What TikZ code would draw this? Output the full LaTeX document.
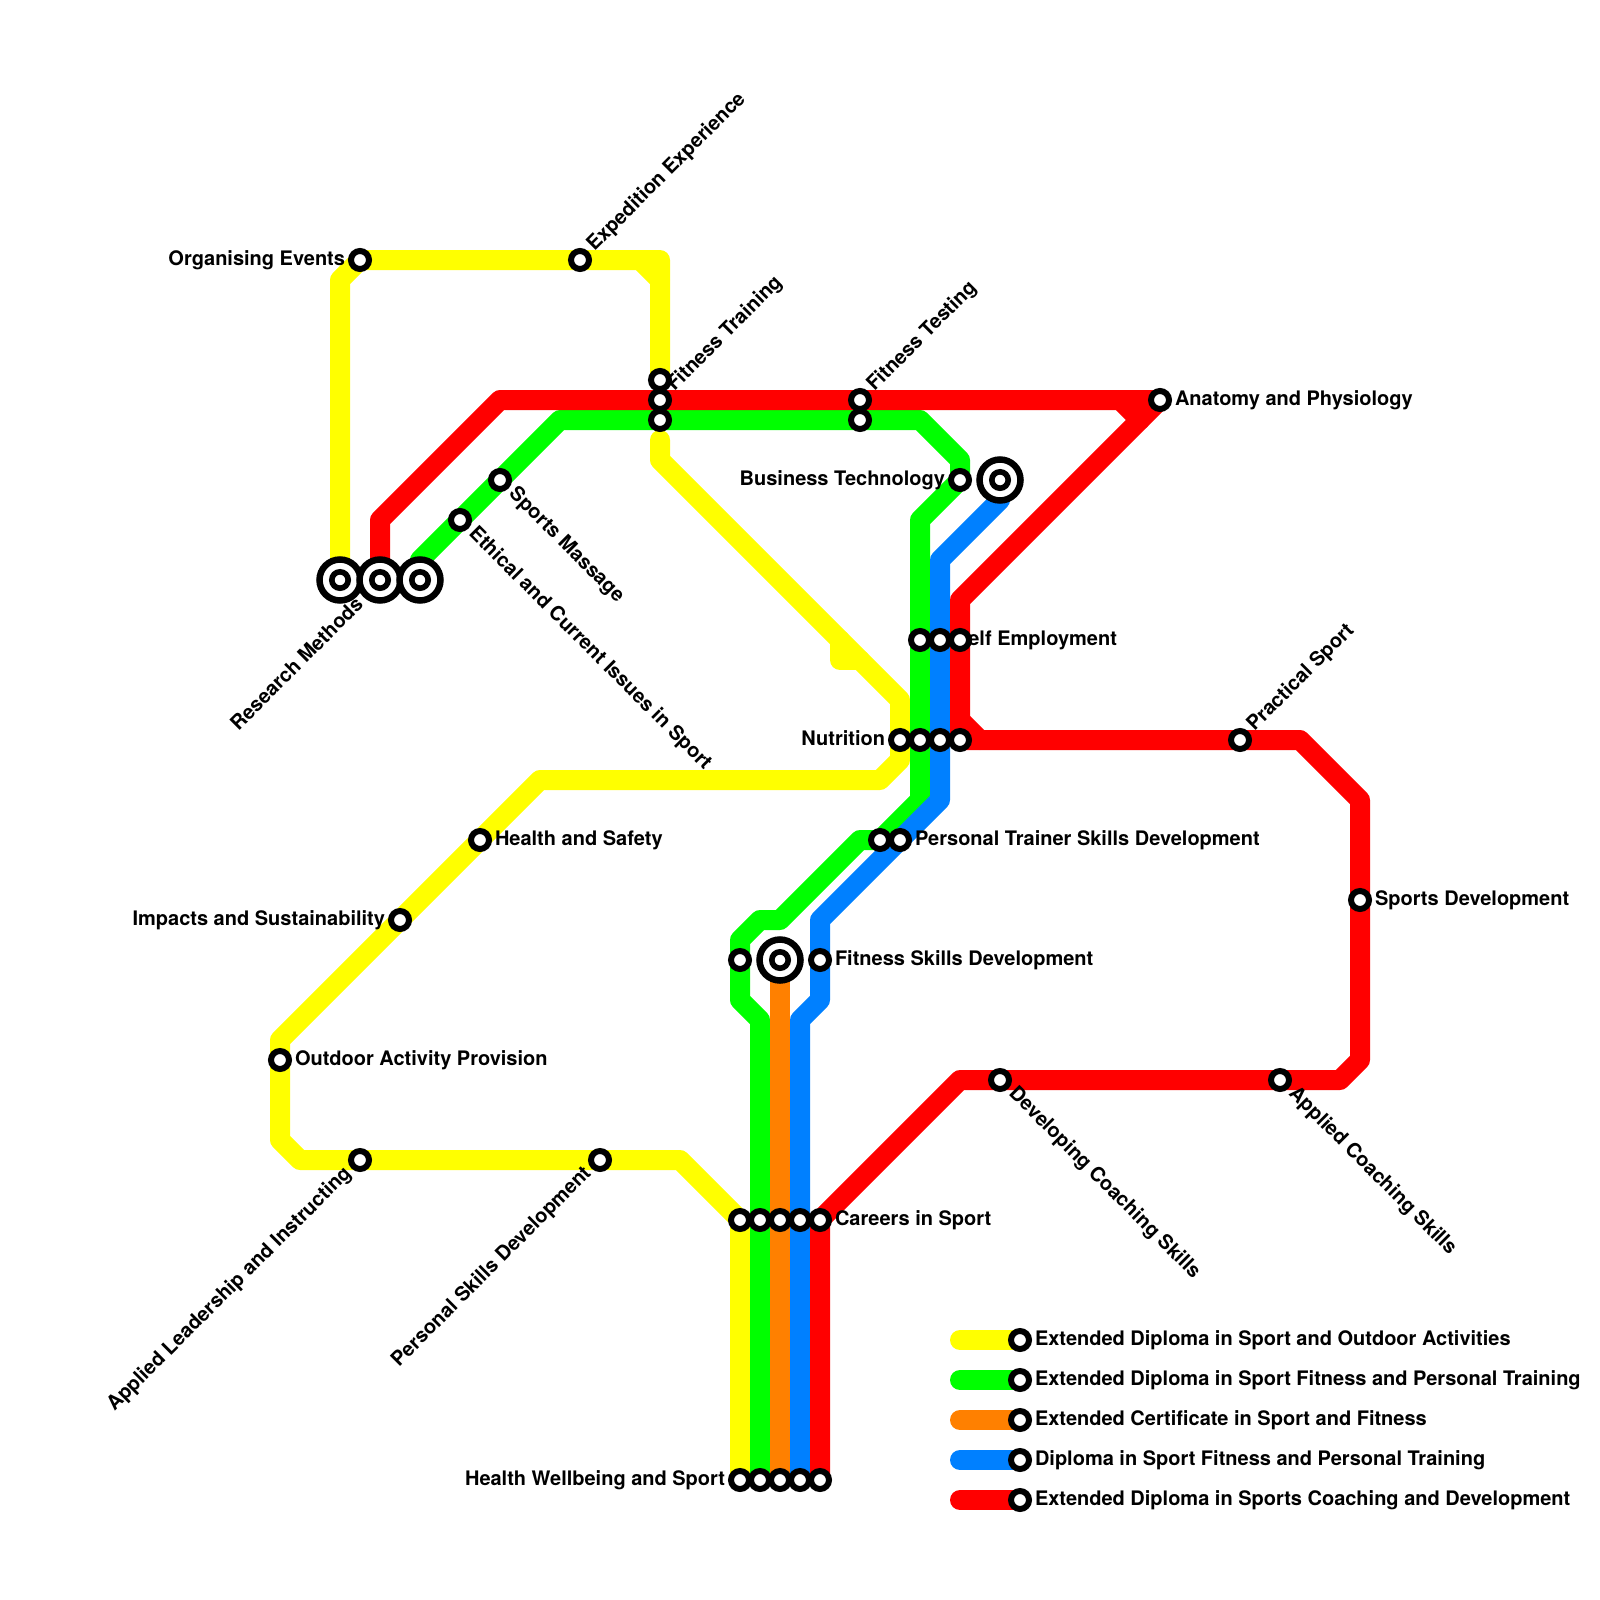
\documentclass[tikz,border=0pt]{standalone}
\usepackage{fontspec}
\setmainfont{TeX Gyre Heros}
\pgfdeclarelayer{routes}
\pgfdeclarelayer{texts}
\pgfsetlayers{routes,texts,main}
\definecolor{lyellow}{RGB}{255,255,0}
\definecolor{lgreen}{RGB}{0,255,0}
\definecolor{lorange}{RGB}{255,128,0}
\definecolor{lblue}{RGB}{0,128,255}
\definecolor{lred}{RGB}{255,0,0}
\tikzset{
  route/.style={line width=20pt,line cap=round,line join=round},
  stn/.style={circle,draw=black,fill=white,line width=6pt,minimum size=18pt,inner sep=0pt,outer sep=0pt},
  ring/.style={circle,draw=black,fill=white,line width=6.5pt,minimum size=41pt,inner sep=0pt,outer sep=0pt},
  core/.style={circle,draw=black,fill=white,line width=5.6pt,minimum size=16.4pt,inner sep=0pt,outer sep=0pt},
  txt/.style={font=\fontsize{20}{22}\selectfont\bfseries,inner sep=0pt,outer sep=0pt},
  lr/.style={txt,anchor=base west,xshift=15pt,yshift=-5.2pt},
  ll/.style={txt,anchor=base east,xshift=-15pt,yshift=-5.2pt},
  lup/.style={txt,anchor=base west,rotate=45,xshift=16pt,yshift=-4.6pt},
  ldn/.style={txt,anchor=base west,rotate=-45,xshift=16pt,yshift=-4.6pt},
  lupend/.style={txt,anchor=base east,rotate=45,xshift=-16pt,yshift=-4.6pt},
}
\begin{document}
\begin{tikzpicture}[x=1pt,y=-1pt]
\useasboundingbox (0,0) rectangle (1600,1600);
% stations
\foreach \n/\x/\y in {
 org/360/260,exp/580/260,ftA/660/380,ftB/660/400,ftC/660/420,
 fteA/860/400,fteB/860/420,ana/1160/400,biz/960/480,
 seA/920/640,seB/940/640,seC/960/640,
 nuA/900/740,nuB/920/740,nuC/940/740,nuD/960/740,prac/1240/740,
 ptA/880/840,ptB/900/840,hs/480/840,sdev/1360/900,imp/400/920,
 fsA/740/960,fsB/820/960,out/280/1060,dcs/1000/1080,acs/1280/1080,
 lead/360/1160,psd/600/1160,
 caA/740/1220,caB/760/1220,caC/780/1220,caD/800/1220,caE/820/1220,
 hwA/740/1480,hwB/760/1480,hwC/780/1480,hwD/800/1480,hwE/820/1480,
 mas/500/480,eth/460/520,
 kyA/1020/1340,kyB/1020/1380,kyC/1020/1420,kyD/1020/1460,kyE/1020/1500}
 {\node[stn] (\n) at (\x,\y) {};}
\foreach \n/\x/\y in {tmY/340/580,tmR/380/580,tmG/420/580,tmB/1000/480,tmO/780/960}
 {\node[ring] (\n) at (\x,\y) {};\node[core] (\n i) at (\x,\y) {};}
% way points
\foreach \n/\x/\y in {
 y1/340/280,y2/640/260,y2b/660/280,y2c/660/260,y3/660/440,y4/660/460,y5/900/700,y5a/840/640,y5b/840/660,y5c/860/660,
 y6/900/760,y7/880/780,y8/540/780,y9/280/1040,y10/280/1140,y11/300/1160,y12/680/1160,
 g1/420/560,g2/560/420,g3/920/420,g4/960/460,g5/920/520,g6/920/800,g7/860/840,g8/780/920,g9/760/920,g10/740/940,g11/740/1000,g12/760/1020,
 b1/1000/500,b2/940/560,b3/940/800,b4/820/920,b5/820/1000,b6/800/1020,
 r1/380/520,r2/500/400,r3/1120/400,r3b/1140/420,r4/960/600,r5/960/720,r6/980/740,r7/1300/740,r8/1360/800,r9/1360/1060,r10/1340/1080,r11/960/1080,
 kA/960/1340,kB/960/1380,kC/960/1420,kD/960/1460,kE/960/1500}
 {\coordinate (\n) at (\x,\y);}
\begin{pgfonlayer}{routes}
\draw[route,lyellow] (tmY.center) -- (y1) -- (org.center) -- (exp.center) -- (y2c) -- (ftA.center);
\draw[route,lyellow] (y2) -- (y2b);
\draw[route,lyellow] (y3) -- (y4) -- (y5) -- (y6) -- (y7) -- (y8) -- (y9) -- (y10) -- (y11) -- (y12) -- (caA.center) -- (hwA.center);
\draw[route,lyellow] (y5a) -- (y5b) -- (y5c);
\draw[route,lgreen] (tmG.center) -- (g1) -- (g2) -- (g3) -- (g4) -- (biz.center) -- (g5) -- (g6) -- (ptA.center) -- (g7) -- (g8) -- (g9) -- (g10) -- (g11) -- (g12) -- (hwB.center);
\draw[route,lorange] (tmO.center) -- (hwC.center);
\draw[route,lblue] (tmB.center) -- (b1) -- (b2) -- (b3) -- (b4) -- (b5) -- (b6) -- (hwD.center);
\draw[route,lred] (tmR.center) -- (r1) -- (r2) -- (ana.center) -- (r4) -- (r5) -- (nuD.center) -- (r7) -- (r8) -- (r9) -- (r10) -- (r11) -- (caE.center) -- (hwE.center);
\draw[route,lred] (r3) -- (r3b);
\draw[route,lred] (r5) -- (r6);
\draw[route,lyellow] (kA) -- (kyA.center);
\draw[route,lgreen] (kB) -- (kyB.center);
\draw[route,lorange] (kC) -- (kyC.center);
\draw[route,lblue] (kD) -- (kyD.center);
\draw[route,lred] (kE) -- (kyE.center);
\end{pgfonlayer}
\begin{pgfonlayer}{texts}
\node[ll] (torg) at (org.center) {Organising Events};
\node[lup] (texp) at (exp.center) {Expedition Experience};
\node[lup] (tft) at (ftB.center) {Fitness Training};
\node[lup] (tfte) at (fteA.center) {Fitness Testing};
\node[lr] (tana) at (ana.center) {Anatomy and Physiology};
\node[ll] (tbiz) at (biz.center) {Business Technology};
\node[lr] (tse) at (seB.center) {Self Employment};
\node[ll] (tnu) at (nuA.center) {Nutrition};
\node[lup] (tprac) at (prac.center) {Practical Sport};
\node[lr] (tpt) at (ptB.center) {Personal Trainer Skills Development};
\node[lr] (ths) at (hs.center) {Health and Safety};
\node[lr] (tsdev) at (sdev.center) {Sports Development};
\node[ll] (timp) at (imp.center) {Impacts and Sustainability};
\node[lr] (tfs) at (fsB.center) {Fitness Skills Development};
\node[lr] (tout) at (out.center) {Outdoor Activity Provision};
\node[ldn] (tdcs) at (dcs.center) {Developing Coaching Skills};
\node[ldn] (tacs) at (acs.center) {Applied Coaching Skills};
\node[lupend] (tlead) at (lead.center) {Applied Leadership and Instructing};
\node[lupend] (tpsd) at (psd.center) {Personal Skills Development};
\node[lr] (tca) at (caE.center) {Careers in Sport};
\node[ll] (thw) at (hwA.center) {Health Wellbeing and Sport};
\node[ldn] (tmas) at (mas.center) {Sports Massage};
\node[ldn] (teth) at (eth.center) {Ethical and Current Issues in Sport};
\node[lupend,xshift=-13.4pt,yshift=-2.5pt] (tres) at (tmR.center) {Research Methods};
\node[lr] (tkA) at (kyA.center) {Extended Diploma in Sport and Outdoor Activities};
\node[lr] (tkB) at (kyB.center) {Extended Diploma in Sport Fitness and Personal Training};
\node[lr] (tkC) at (kyC.center) {Extended Certificate in Sport and Fitness};
\node[lr] (tkD) at (kyD.center) {Diploma in Sport Fitness and Personal Training};
\node[lr] (tkE) at (kyE.center) {Extended Diploma in Sports Coaching and Development};
\end{pgfonlayer}
\end{tikzpicture}
\end{document}
